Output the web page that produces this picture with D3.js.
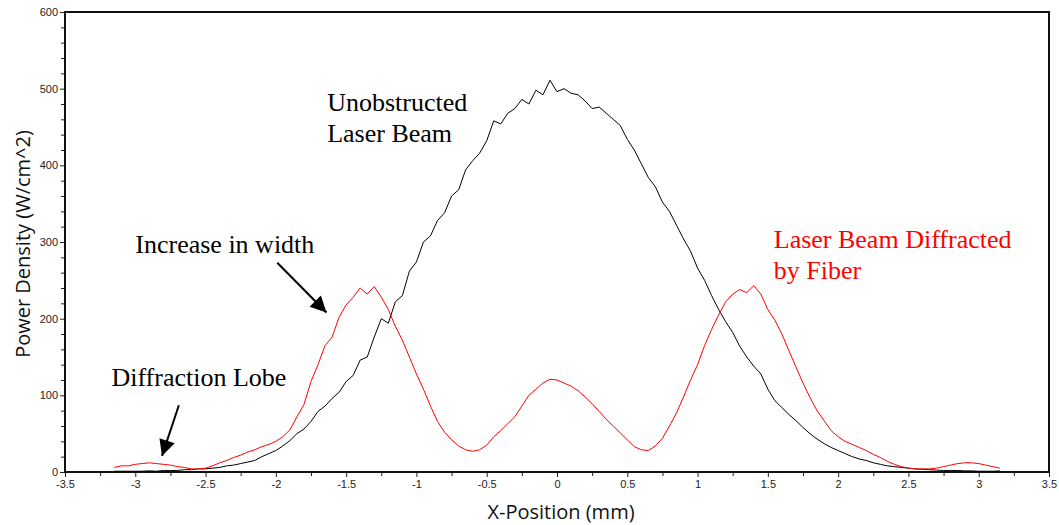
<!DOCTYPE html>
<html>
<head>
<meta charset="utf-8">
<script src="https://cdn.jsdelivr.net/npm/d3@7/dist/d3.min.js"></script>
<style>
  body { margin: 0; background: #fff; }
  svg { display: block; }
</style>
</head>
<body>
<script>
// x positions (mm), sampled every 0.05 mm
var xPos = [-3.15,-3.10,-3.05,-3.00,-2.95,-2.90,-2.85,-2.80,-2.75,-2.70,-2.65,-2.60,-2.55,-2.50,-2.45,-2.40,-2.35,-2.30,-2.25,-2.20,
  -2.15,-2.10,-2.05,-2.00,-1.95,-1.90,-1.85,-1.80,-1.75,-1.70,-1.65,-1.60,-1.55,-1.50,-1.45,-1.40,-1.35,-1.30,-1.25,-1.20,
  -1.15,-1.10,-1.05,-1.00,-0.95,-0.90,-0.85,-0.80,-0.75,-0.70,-0.65,-0.60,-0.55,-0.50,-0.45,-0.40,-0.35,-0.30,-0.25,-0.20,
  -0.15,-0.10,-0.05,0.00,0.05,0.10,0.15,0.20,0.25,0.30,0.35,0.40,0.45,0.50,0.55,0.60,0.65,0.70,0.75,0.80,
  0.85,0.90,0.95,1.00,1.05,1.10,1.15,1.20,1.25,1.30,1.35,1.40,1.45,1.50,1.55,1.60,1.65,1.70,1.75,1.80,
  1.85,1.90,1.95,2.00,2.05,2.10,2.15,2.20,2.25,2.30,2.35,2.40,2.45,2.50,2.55,2.60,2.65,2.70,2.75,2.80,
  2.85,2.90,2.95,3.00,3.05,3.10,3.15];

// unobstructed laser beam (W/cm^2)
var unobstructed = [1,1,1,1,1,1.5,1,2,2,2,3,3,4,4,5,6,8,9,11,13,
  15,20,24,28,34,41,50,56,66,79,86,96,104,118,126,146,150,176,200,194,
  222,230,262,274,300,308,328,338,360,368,394,406,416,432,458,454,468,474,486,480,
  498,492,511,496,500,494,492,484,474,476,468,460,452,434,420,402,384,372,352,340,
  322,304,288,266,250,230,212,196,182,164,150,138,128,108,93,84,75,67,58,50,
  43,37,32,28,24,20,17,15,12,10,8,7,6,5,4,3.5,3,2.5,2,2,
  2,1.5,1.5,1,1,1,1.5];

// laser beam diffracted by fiber (W/cm^2)
var diffracted = [6,8,8,10,11,12,11,10,9,7,6,4,4,5,8,12,15,19,22,26,
  29,33,36,40,46,55,72,88,118,140,165,176,202,218,228,240,232,242,228,212,
  190,172,150,128,108,86,66,52,42,34,29,27,29,35,46,54,63,72,86,100,
  108,116,121,120,116,112,106,98,89,79,69,60,51,42,33,29,28,34,44,60,
  77,98,120,140,165,186,205,222,232,238,234,243,232,212,198,180,158,137,116,97,
  80,67,54,46,40,36,32,28,23,19,14,10,7,5,4,4,4,5,7,9,
  11,12,12,11,9,7,5];

var xMajor = [-3.5,-3,-2.5,-2,-1.5,-1,-0.5,0,0.5,1,1.5,2,2.5,3,3.5];
var xMinor = [-3.25,-2.75,-2.25,-1.75,-1.25,-0.75,-0.25,0.25,0.75,1.25,1.75,2.25,2.75,3.25];
var yMajor = [0,100,200,300,400,500,600];
var yMinor = [20,40,60,80,120,140,160,180,220,240,260,280,320,340,360,380,420,440,460,480,520,540,560,580];

// annotation text (x in mm, y = baseline of first line in W/cm^2)
var notes = [
  { lines: ["Unobstructed", "Laser Beam"], x: -1.635, y: 471, color: "#000" },
  { lines: ["Increase in width"], x: -3.0, y: 286, color: "#000" },
  { lines: ["Diffraction Lobe"], x: -3.17, y: 112, color: "#000" },
  { lines: ["Laser Beam Diffracted", "by Fiber"], x: 1.542, y: 292, color: "#ff0000" }
];
var arrows = [
  { x1: -1.99, y1: 273, x2: -1.64, y2: 208 },
  { x1: -2.69, y1: 87, x2: -2.81, y2: 21 }
];

var W = 1059, H = 525;
var margin = { top: 12, right: 10, bottom: 53, left: 65 };
var w = W - margin.left - margin.right;
var h = H - margin.top - margin.bottom;

var svg = d3.select("body").append("svg")
    .attr("width", W)
    .attr("height", H);

var x = d3.scaleLinear().domain([-3.5, 3.5]).range([0, w]);
var y = d3.scaleLinear().domain([0, 600]).range([h, 0]);

var g = svg.append("g").attr("transform", "translate(" + margin.left + "," + margin.top + ")");

// minor ticks
g.append("g").attr("class", "axis")
  .attr("transform", "translate(0," + h + ")")
  .call(d3.axisBottom(x).tickValues(xMinor).tickSize(4).tickFormat(""));
g.append("g").attr("class", "axis")
  .call(d3.axisLeft(y).tickValues(yMinor).tickSize(4).tickFormat(""));

// major ticks + labels
g.append("g").attr("class", "axis")
  .attr("transform", "translate(0," + h + ")")
  .call(d3.axisBottom(x).tickValues(xMajor).tickSize(5).tickPadding(3).tickFormat(function(d){ return String(d); }));
g.append("g").attr("class", "axis")
  .call(d3.axisLeft(y).tickValues(yMajor).tickSize(5).tickPadding(2).tickFormat(d3.format("d")));

g.selectAll(".axis .domain").remove();
g.selectAll(".axis line").attr("stroke", "#222").attr("stroke-width", 1);
g.selectAll(".axis text")
  .attr("font-family", "Liberation Sans, Arial, sans-serif")
  .attr("font-size", 11)
  .attr("fill", "#222");

// plot frame
g.append("rect")
  .attr("x", 0).attr("y", 0)
  .attr("width", w).attr("height", h)
  .attr("fill", "none")
  .attr("stroke", "#111")
  .attr("stroke-width", 2);

var line = d3.line()
  .x(function(d, i){ return x(xPos[i]); })
  .y(function(d){ return y(d); });

g.append("path")
  .datum(unobstructed)
  .attr("d", line)
  .attr("fill", "none")
  .attr("stroke", "#000")
  .attr("stroke-width", 1);

g.append("path")
  .datum(diffracted)
  .attr("d", line)
  .attr("fill", "none")
  .attr("stroke", "#ff0000")
  .attr("stroke-width", 1);

// annotations
notes.forEach(function(n){
  var t = g.append("text")
    .attr("x", x(n.x))
    .attr("y", y(n.y))
    .attr("font-family", "Liberation Serif, Times New Roman, serif")
    .attr("font-size", 26)
    .attr("fill", n.color);
  n.lines.forEach(function(s, i){
    t.append("tspan").attr("x", x(n.x)).attr("dy", i === 0 ? 0 : 31).text(s);
  });
});

svg.append("defs").append("marker")
  .attr("id", "head")
  .attr("viewBox", "0 0 10 10")
  .attr("refX", 10).attr("refY", 5)
  .attr("markerUnits", "userSpaceOnUse")
  .attr("markerWidth", 18).attr("markerHeight", 16)
  .attr("orient", "auto")
  .append("path")
  .attr("d", "M0,0L10,5L0,10Z")
  .attr("fill", "#000");

g.selectAll(".arrow")
  .data(arrows)
  .enter()
  .append("line")
  .attr("class", "arrow")
  .attr("x1", function(d){ return x(d.x1); })
  .attr("y1", function(d){ return y(d.y1); })
  .attr("x2", function(d){ return x(d.x2); })
  .attr("y2", function(d){ return y(d.y2); })
  .attr("stroke", "#000")
  .attr("stroke-width", 2)
  .attr("marker-end", "url(#head)");

// axis titles
svg.append("text")
  .attr("x", margin.left + x(0) + 4)
  .attr("y", 519)
  .attr("text-anchor", "middle")
  .attr("font-family", "Open Sans, sans-serif")
  .attr("font-size", 20)
  .attr("fill", "#111")
  .text("X-Position (mm)");

svg.append("text")
  .attr("transform", "translate(30,244) rotate(-90)")
  .attr("text-anchor", "middle")
  .attr("font-family", "Open Sans, sans-serif")
  .attr("font-size", 20)
  .attr("fill", "#111")
  .text("Power Density (W/cm^2)");
</script>
</body>
</html>
